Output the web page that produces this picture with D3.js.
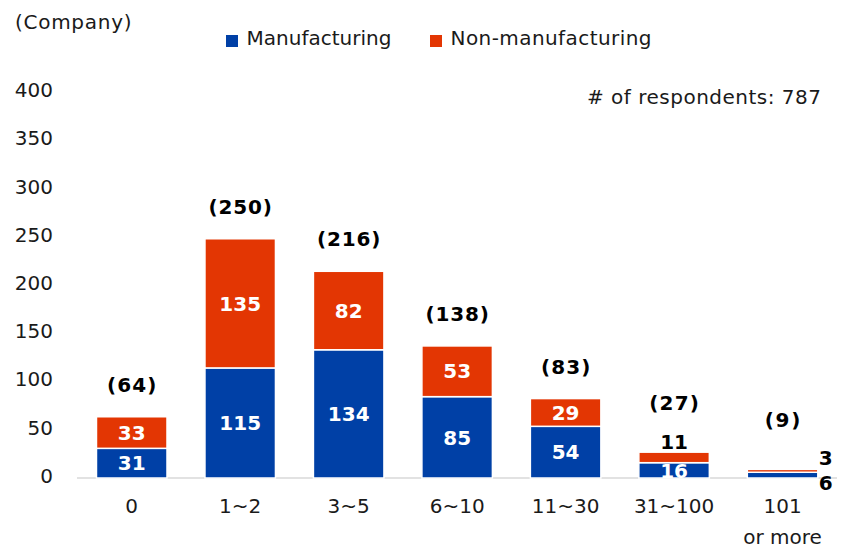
<!DOCTYPE html>
<html>
<head>
<meta charset="utf-8">
<script src="https://cdn.jsdelivr.net/npm/d3@7/dist/d3.min.js"></script>
<style>
  html, body { margin: 0; padding: 0; background: #fff; }
  svg { display: block; font-family: "DejaVu Sans", Verdana, sans-serif; }
</style>
</head>
<body>
<svg id="chart" width="841" height="547"></svg>
<script>
const categories = ["0", "1~2", "3~5", "6~10", "11~30", "31~100", "101\nor more"];
const manufacturing = [31, 115, 134, 85, 54, 16, 6];
const nonManufacturing = [33, 135, 82, 53, 29, 11, 3];
const totals = [64, 250, 216, 138, 83, 27, 9];
const yTicks = [0, 50, 100, 150, 200, 250, 300, 350, 400];
const seriesNames = ["Manufacturing", "Non-manufacturing"];
const colors = ["#0040A6", "#E33603"];
const respondents = 787;

const svg = d3.select("#chart");
const FS = 20;

const x = d3.scaleBand().domain(categories).range([77.5, 836.8]).paddingInner(0.35).paddingOuter(0.175);
const y = d3.scaleLinear().domain([0, 400]).range([478, 95.2]);
const yLabel = d3.scaleLinear().domain([0, 400]).range([475.5, 90]);

// y tick labels
svg.append("g").selectAll("text").data(yTicks).join("text")
  .attr("x", 53).attr("y", d => yLabel(d)).attr("dy", "0.36em")
  .attr("text-anchor", "end").attr("font-size", FS).attr("fill", "#1a1a1a")
  .text(d => d);

// axis line
svg.append("line").attr("x1", 77).attr("x2", 837).attr("y1", y(0)).attr("y2", y(0))
  .attr("stroke", "#D9D9D9").attr("stroke-width", 1.5);

// stacked data
const rows = categories.map((c, i) => ({cat: c, m: manufacturing[i], n: nonManufacturing[i], t: totals[i]}));
const stack = d3.stack().keys(["m", "n"])(rows);

const g = svg.append("g");
stack.forEach((layer, li) => {
  g.append("g").selectAll("rect").data(layer).join("rect")
    .attr("x", d => x(d.data.cat))
    .attr("width", x.bandwidth())
    .attr("y", d => y(d[1]))
    .attr("height", d => y(d[0]) - y(d[1]))
    .attr("fill", colors[li])
    .attr("stroke", "#fff").attr("stroke-width", 1.5);
});

// segment labels
const labels = svg.append("g").attr("font-size", FS).attr("font-weight", "bold");
rows.forEach(r => {
  const x0 = x(r.cat), cx = x0 + x.bandwidth() / 2;
  const hm = y(0) - y(r.m), hn = y(r.m) - y(r.m + r.n);
  let extra = 0;
  if (hm < 8 && hn < 8) {
    // tiny bar: labels to the right
    const mid = y(r.t / 2);
    labels.append("text").attr("x", x0 + x.bandwidth() + 1).attr("y", mid - 16).attr("dy", "0.36em")
      .attr("fill", "#000").text(r.n);
    labels.append("text").attr("x", x0 + x.bandwidth() + 1).attr("y", mid + 9.5).attr("dy", "0.36em")
      .attr("fill", "#000").text(r.m);
    extra = 18;
  } else {
    labels.append("text").attr("x", cx).attr("y", (y(0) + y(r.m)) / 2).attr("dy", "0.36em")
      .attr("text-anchor", "middle").attr("fill", "#fff").text(r.m);
    if (hn < 20) {
      labels.append("text").attr("x", cx).attr("y", y(r.t) - 10.5).attr("dy", "0.36em")
        .attr("text-anchor", "middle").attr("fill", "#000").text(r.n);
      extra = 17;
    } else {
      labels.append("text").attr("x", cx).attr("y", (y(r.m) + y(r.t)) / 2).attr("dy", "0.36em")
        .attr("text-anchor", "middle").attr("fill", "#fff").text(r.n);
    }
  }
  const digits = String(r.t).length;
  labels.append("text").attr("x", cx).attr("y", y(r.t) - 32 - extra).attr("dy", "0.36em")
    .attr("text-anchor", "middle").attr("fill", "#000")
    .attr("textLength", (1.09 + 0.711 * digits) * 19.7).attr("lengthAdjust", "spacing")
    .text("(" + r.t + ")");
});

// x labels
const xl = svg.append("g").attr("font-size", FS).attr("fill", "#1a1a1a");
categories.forEach(c => {
  const t = xl.append("text").attr("x", x(c) + x.bandwidth() / 2).attr("y", 505.5)
    .attr("text-anchor", "middle");
  c.split("\n").forEach((line, i) => {
    t.append("tspan").attr("x", x(c) + x.bandwidth() / 2).attr("dy", i === 0 ? "0.36em" : "1.55em").text(line);
  });
});

// unit label
svg.append("text").attr("x", 15).attr("y", 22).attr("dy", "0.36em")
  .attr("font-size", FS).attr("fill", "#1a1a1a")
  .attr("textLength", 116.5).attr("lengthAdjust", "spacing").text("(Company)");

// legend
const legendX = [226, 430];
const legendW = [145, 201];
seriesNames.forEach((s, i) => {
  svg.append("rect").attr("x", legendX[i]).attr("y", 35).attr("width", 12).attr("height", 12).attr("fill", colors[i]);
  svg.append("text").attr("x", legendX[i] + 20.5).attr("y", 38).attr("dy", "0.36em")
    .attr("font-size", FS).attr("fill", "#1a1a1a")
    .attr("textLength", legendW[i]).attr("lengthAdjust", "spacing").text(s);
});

// respondents note
svg.append("text").attr("x", 821).attr("y", 96.5).attr("dy", "0.36em").attr("text-anchor", "end")
  .attr("font-size", FS).attr("fill", "#1a1a1a")
  .attr("textLength", 234).attr("lengthAdjust", "spacing").text("# of respondents: " + respondents);
</script>
</body>
</html>
